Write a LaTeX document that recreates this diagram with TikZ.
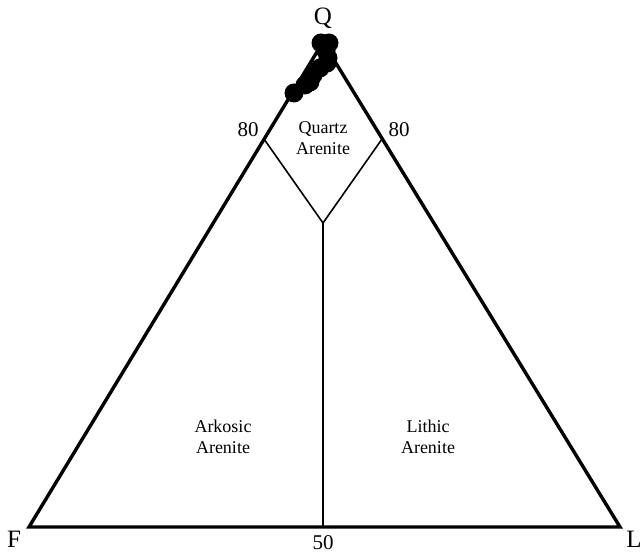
\documentclass[tikz,border=0pt]{standalone}
\usepackage{fontspec}
\setmainfont{Liberation Serif}

\begin{document}
\begin{tikzpicture}[x=1pt,y=-1pt]
	\useasboundingbox (0,0) rectangle (641,553);
	\tikzset{edge/.style={line width=3.4pt,line join=miter},
		field/.style={line width=1.6pt},
		vlabel/.style={font=\fontsize{25}{25}\selectfont,inner sep=0pt},
		tick/.style={font=\fontsize{21}{21}\selectfont,inner sep=0pt},
		area/.style={font=\fontsize{18}{21}\selectfont,align=center,inner sep=0pt}}

	\coordinate (F) at (29,527);
	\coordinate (L) at (620,527);
	\coordinate (Q) at (323,42);
	\coordinate (q80l) at (264,139);
	\coordinate (q80r) at (382,139);
	\coordinate (mid) at (323,223);
	\coordinate (b50) at (323,527);

	\draw[field] (q80l) -- (mid);
	\draw[field] (q80r) -- (mid);
	\draw[field] (mid) -- (b50);
	\draw[edge] (F) -- (Q) -- (L) -- cycle;

	\node[vlabel] (lQ) at (323,18) {Q};
	\node[vlabel] (lF) at (14,539) {F};
	\node[vlabel] (lL) at (634,539) {L};
	\node[tick] (t80l) at (248,130) {80};
	\node[tick] (t80r) at (399,130) {80};
	\node[tick] (t50) at (323,543) {50};

	\node[area] (qa) at (323,138) {Quartz\\Arenite};
	\node[area] (ka) at (223,437) {Arkosic\\Arenite};
	\node[area] (la) at (428,437) {Lithic\\Arenite};

	% samples
	\foreach \px/\py in {321/43,329/43,326/51,328/58,327/63,320/68,313/75,310/82,305/85,294/93}
		\fill (\px,\py) circle (9.5);
	\end{tikzpicture}
\end{document}
